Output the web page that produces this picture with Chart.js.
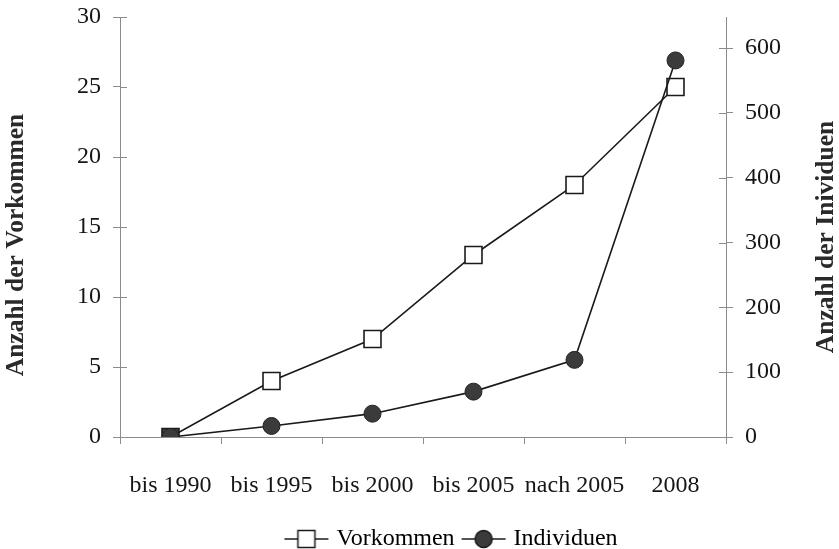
<!DOCTYPE html>
<html>
<head>
<meta charset="utf-8">
<script src="https://cdn.jsdelivr.net/npm/chart.js@4.4.1/dist/chart.umd.min.js"></script>
<style>
  html, body { margin: 0; padding: 0; background: #fff; }
  #wrap { width: 839px; height: 549px; }
</style>
</head>
<body>
<div id="wrap"><canvas id="chart" width="839" height="549"></canvas></div>
<script>
// data
const categories = ['bis 1990', 'bis 1995', 'bis 2000', 'bis 2005', 'nach 2005', '2008'];
const vorkommen = [0, 4, 7, 13, 18, 25];
const individuen = [0, 17, 36, 70, 119, 581];
const leftTicks = [0, 5, 10, 15, 20, 25, 30];
const rightTicks = [0, 100, 200, 300, 400, 500, 600];

const AXIS = '#8c8c8c';
const INK = '#1a1a1a';
const TEXT = '#151515';
const FONT = '"Liberation Serif", "Times New Roman", serif';

// little legend glyphs: a line with the marker in the middle
function legendGlyph(kind) {
    const c = document.createElement('canvas');
    c.width = 46; c.height = 22;
    const g = c.getContext('2d');
    g.strokeStyle = INK;
    g.lineWidth = 1.5;
    g.beginPath(); g.moveTo(1, 11); g.lineTo(45, 11); g.stroke();
    if (kind === 'rect') {
        g.fillStyle = '#fff';
        g.fillRect(14.5, 2.5, 17, 17);
        g.strokeRect(14.5, 2.5, 17, 17);
    } else {
        g.fillStyle = '#3b3b3b';
        g.beginPath(); g.arc(23, 11, 8.5, 0, Math.PI * 2); g.fill(); g.stroke();
    }
    return c;
}

function drawTitle(ctx, text, x, y) {
    ctx.save();
    ctx.fillStyle = '#2a2a2a';
    ctx.font = 'bold 25.5px ' + FONT;
    ctx.textAlign = 'center';
    ctx.textBaseline = 'middle';
    ctx.translate(x, y);
    ctx.rotate(-Math.PI / 2);
    ctx.fillText(text, 0, 0);
    ctx.restore();
}

function noPad(scale) {
    scale.paddingTop = 0;
    scale.paddingBottom = 0;
    scale.paddingLeft = 0;
    scale.paddingRight = 0;
}

// axis titles, inner half of the y tick marks, legend placement
const extras = {
    id: 'extras',
    afterLayout(chart) {
        const lg = chart.legend;
        const dy = 516 - lg.top, dx = 30;
        lg.top += dy; lg.bottom += dy;
        lg.left += dx; lg.right += dx;
    },
    afterDraw(chart) {
        const ctx = chart.ctx;
        const yl = chart.scales.y, yr = chart.scales.y1;
        ctx.save();
        ctx.strokeStyle = AXIS;
        ctx.lineWidth = 1;
        yl.ticks.forEach(t => {
            const y = Math.round(yl.getPixelForValue(t.value)) + 0.5;
            ctx.beginPath(); ctx.moveTo(yl.right, y); ctx.lineTo(yl.right + 7, y); ctx.stroke();
        });
        yr.ticks.forEach(t => {
            const y = Math.round(yr.getPixelForValue(t.value)) + 0.5;
            ctx.beginPath(); ctx.moveTo(yr.left - 7, y); ctx.lineTo(yr.left, y); ctx.stroke();
        });
        ctx.restore();
        drawTitle(ctx, 'Anzahl der Vorkommen', 16, 245);
        drawTitle(ctx, 'Anzahl der Inividuen', 826, 237);
    }
};

new Chart(document.getElementById('chart').getContext('2d'), {
    type: 'line',
    data: {
        labels: categories,
        datasets: [{
            label: 'Vorkommen',
            data: vorkommen,
            yAxisID: 'y',
            borderColor: INK,
            borderWidth: 1.6,
            backgroundColor: '#fff',
            pointStyle: 'rect',
            pointRadius: 12,
            pointBorderColor: INK,
            pointBorderWidth: 1.6,
            pointBackgroundColor: c => c.dataIndex === 0 ? '#444' : '#fff',
            tension: 0,
            order: 2
        }, {
            label: 'Individuen',
            data: individuen,
            yAxisID: 'y1',
            borderColor: INK,
            borderWidth: 1.6,
            backgroundColor: '#3b3b3b',
            pointStyle: 'circle',
            pointRadius: 8.5,
            pointBorderColor: '#222',
            pointBorderWidth: 1,
            pointBackgroundColor: '#3b3b3b',
            tension: 0,
            order: 1
        }]
    },
    options: {
        responsive: false,
        animation: false,
        layout: { padding: { top: 17, left: 0, right: 0, bottom: 0 } },
        plugins: {
            tooltip: { enabled: false },
            legend: {
                position: 'bottom',
                fullSize: false,
                labels: {
                    color: TEXT,
                    font: { family: FONT, size: 24 },
                    usePointStyle: true,
                    pointStyleWidth: 36,
                    boxHeight: 22,
                    padding: 11,
                    generateLabels(chart) {
                        return chart.data.datasets.map((ds, i) => ({
                            text: ds.label,
                            datasetIndex: i,
                            pointStyle: legendGlyph(i === 0 ? 'rect' : 'circle'),
                            fillStyle: '#fff',
                            strokeStyle: INK,
                            lineWidth: 0,
                            hidden: false
                        }));
                    }
                }
            }
        },
        scales: {
            x: {
                offset: true,
                grid: {
                    offset: true,
                    drawOnChartArea: false,
                    drawTicks: true,
                    tickLength: 7,
                    color: AXIS
                },
                border: { display: true, color: AXIS },
                ticks: {
                    color: TEXT,
                    font: { family: FONT, size: 24 },
                    padding: 27,
                    maxRotation: 0,
                    autoSkip: false
                },
                afterFit(scale) { scale.height = 67; noPad(scale); }
            },
            y: {
                position: 'left',
                min: 0,
                max: 30,
                afterBuildTicks(axis) { axis.ticks = leftTicks.map(v => ({ value: v })); },
                grid: { drawOnChartArea: false, tickLength: 7, color: AXIS },
                border: { display: true, color: AXIS },
                ticks: {
                    color: TEXT,
                    font: { family: FONT, size: 24 },
                    padding: 12
                },
                afterFit(scale) { scale.width = 120; noPad(scale); }
            },
            y1: {
                position: 'right',
                min: 0,
                max: 648,
                afterBuildTicks(axis) { axis.ticks = rightTicks.map(v => ({ value: v })); },
                grid: { drawOnChartArea: false, tickLength: 7, color: AXIS },
                border: { display: true, color: AXIS },
                ticks: {
                    color: TEXT,
                    font: { family: FONT, size: 24 },
                    padding: 12
                },
                afterFit(scale) { scale.width = 113; noPad(scale); }
            }
        }
    },
    plugins: [extras]
});
</script>
</body>
</html>
